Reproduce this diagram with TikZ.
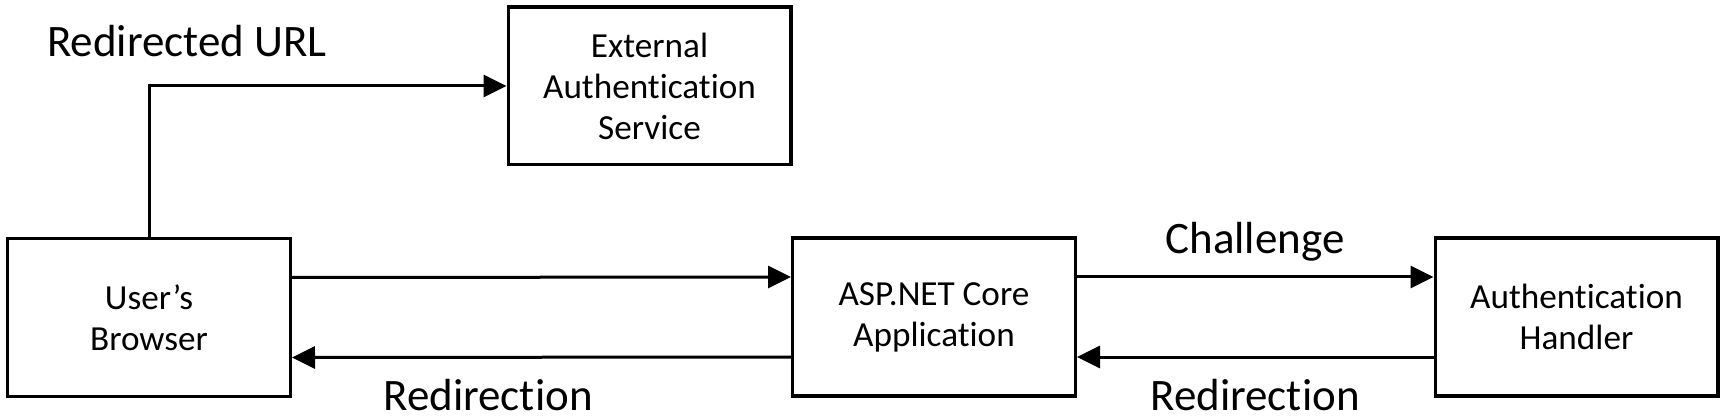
\documentclass[tikz,border=0pt]{standalone}
\usepackage{fontspec}
\setmainfont{Carlito}[Ligatures=NoCommon]
\usetikzlibrary{arrows.meta, shapes}
\tikzstyle{block} = [rectangle, minimum width=141.3pt, minimum height=78.8pt, text centered, align=center, draw=black, line width=1.7pt, font=\fontsize{17.6}{20.5}\selectfont]
\tikzstyle{arrow} = [line width=1.5pt, -{Triangle[length=11.5pt, width=11pt]}]
\tikzstyle{msg} = [font=\fontsize{22.5}{27}\selectfont, anchor=base, inner sep=0pt]

\begin{document}
\begin{tikzpicture}[x=0.5pt, y=-0.5pt]
\useasboundingbox (0,0) rectangle (1727,416);

\node at (149, 317.5) (browser) [block] {User’s\\Browser};
\node at (649.5, 86) (external) [block] {External\\Authentication\\Service};
\node at (934, 317) (app) [block] {ASP.NET Core\\Application};
\node at (1576.5, 317) (handler) [block] {Authentication\\Handler};

\node at (187, 57) (urltext) [msg] {Redirected URL};
\node at (1255, 254) (challengetext) [msg] {Challenge};
\node at (488, 410) (redirtext1) [msg] {Redirection};
\node at (1255, 410) (redirtext2) [msg] {Redirection};

\draw [arrow] (browser.north) |- (external.west);
\draw [arrow] ([yshift=20pt]browser.east) -- ([yshift=20pt]app.west);
\draw [arrow] ([yshift=-20pt]app.west) -- ([yshift=-20pt]browser.east);
\draw [arrow] ([yshift=20pt]app.east) -- ([yshift=20pt]handler.west);
\draw [arrow] ([yshift=-20pt]handler.west) -- ([yshift=-20pt]app.east);

%\draw [arrow, dotted] (external) -- (app);

\end{tikzpicture}
\end{document}
